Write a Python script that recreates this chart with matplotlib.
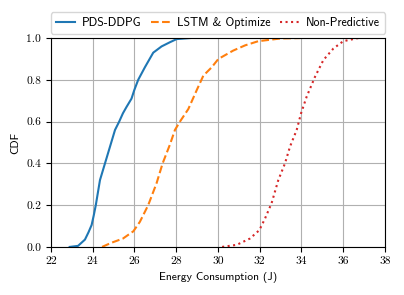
import matplotlib
matplotlib.use('Agg')
import matplotlib.pyplot as plt

plt.rcParams['font.size'] = 8
plt.rcParams['axes.unicode_minus'] = False

# CDF points
pds_x = [22.9, 23.3, 23.63, 23.8, 23.95, 24.05, 24.15, 24.35, 24.59, 24.83, 25.07, 25.27,
         25.45, 25.62, 25.86, 25.99, 26.18, 26.5, 26.9, 27.3, 27.7, 28.02, 28.66]
pds_y = [0.0, 0.005, 0.035, 0.07, 0.105, 0.15, 0.2, 0.32, 0.4, 0.48, 0.56, 0.6,
         0.64, 0.67, 0.71, 0.75, 0.8, 0.86, 0.93, 0.96, 0.98, 0.995, 1.0]

lstm_x = [24.45, 24.9, 25.45, 25.95, 26.26, 26.66, 27.06, 27.35, 27.7, 27.94, 28.18,
          28.58, 28.98, 29.3, 29.7, 30.02, 30.73, 31.3, 31.93, 33.0, 33.93]
lstm_y = [0.0, 0.02, 0.04, 0.075, 0.12, 0.2, 0.305, 0.4, 0.49, 0.56, 0.6,
          0.66, 0.75, 0.82, 0.86, 0.9, 0.94, 0.965, 0.985, 0.998, 1.0]

np_x = [30.2, 30.9, 31.53, 31.98, 32.25, 32.57, 32.89, 33.21, 33.45, 33.77, 33.98,
        34.25, 34.65, 35.05, 35.53, 36.0, 36.72]
np_y = [0.0, 0.01, 0.04, 0.08, 0.135, 0.21, 0.32, 0.4, 0.48, 0.56, 0.64,
        0.72, 0.815, 0.895, 0.95, 0.985, 1.0]

fig = plt.figure(figsize=(4.04, 2.95), dpi=100)
ax = fig.add_axes([0.126, 0.163, 0.827, 0.708])

ax.plot(pds_x, pds_y, color='tab:blue', lw=1.5, label='PDS-DDPG')
ax.plot(lstm_x, lstm_y, color='tab:orange', lw=1.5, ls='--', label='LSTM & Optimize')
ax.plot(np_x, np_y, color='tab:red', lw=1.5, ls=':', label='Non-Predictive')

ax.set_xlim(22, 38)
ax.set_ylim(0, 1)
ax.set_xticks(range(22, 39, 2))
ax.set_yticks([0, 0.2, 0.4, 0.6, 0.8, 1.0])
ax.set_xticklabels([str(v) for v in range(22, 39, 2)], family='cmr10', fontsize=8.3)
ax.set_yticklabels(['0.0', '0.2', '0.4', '0.6', '0.8', '1.0'], family='cmr10', fontsize=8.3)
ax.tick_params(length=3.5)
ax.grid(True, color='#b0b0b0', lw=0.8)
ax.set_axisbelow(True)

ax.set_xlabel('Energy Consumption (J)', fontsize=8.3, family='cmss10')
ax.set_ylabel('CDF', fontsize=8.3, family='cmss10')

ax.legend(loc='lower left', bbox_to_anchor=(0, 1.02, 1, 0.1), ncol=3,
          prop={'family': 'cmss10', 'size': 8.6}, borderaxespad=0.0,
          handlelength=1.6, handletextpad=0.6, columnspacing=1.0,
          mode='expand', fancybox=True)

fig.savefig('out.png', dpi=100)
